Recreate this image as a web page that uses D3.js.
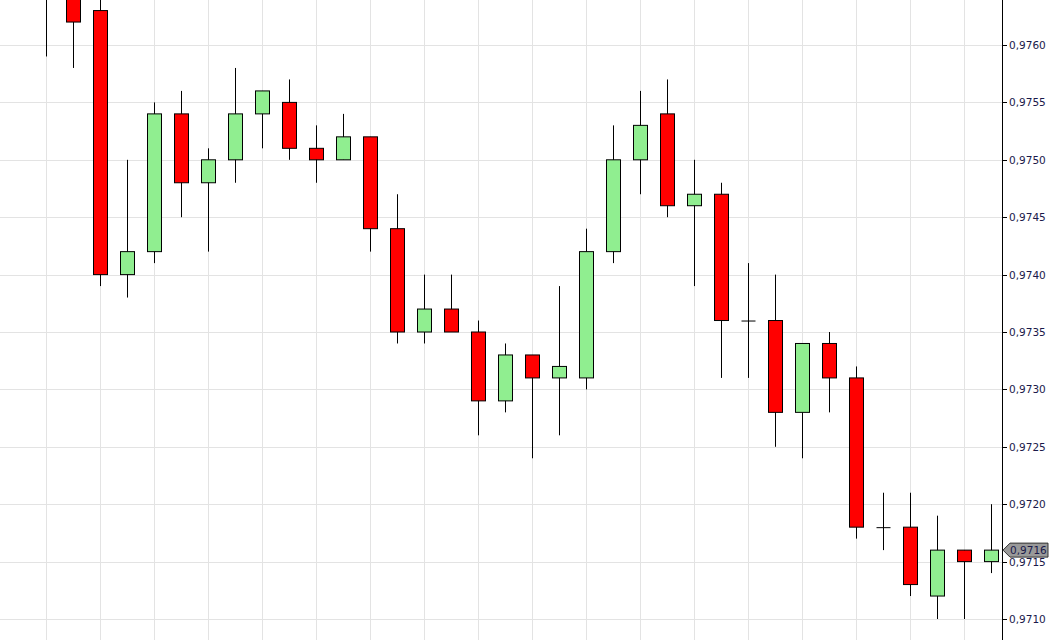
<!DOCTYPE html>
<html><head><meta charset="utf-8">
<script src="https://cdn.jsdelivr.net/npm/d3@7"></script>
<style>body{margin:0;background:#fff}svg{display:block}</style>
</head><body><svg id="chart" width="1050" height="640"></svg>
<script>
var opens  = [.9764,.9765,.9763,.9740,.9742,.9754,.9748,.9750,.9754,.9755,.9751,.9750,.9752,.9744,.9735,.9737,.9735,.9729,.9733,.9731,.9731,.9742,.9750,.9754,.9746,.9747,.9736,.9736,.9728,.9734,.9731,.9718,.9718,.9712,.9716,.9715];
var highs  = [.9768,.9767,.9764,.9750,.9755,.9756,.9751,.9758,.9756,.9757,.9753,.9754,.9752,.9747,.9740,.9740,.9736,.9734,.9733,.9739,.9744,.9753,.9756,.9757,.9750,.9748,.9741,.9740,.9734,.9735,.9732,.9721,.9721,.9719,.9716,.9720];
var lows   = [.9759,.9758,.9739,.9738,.9741,.9745,.9742,.9748,.9751,.9750,.9748,.9750,.9742,.9734,.9734,.9735,.9726,.9728,.9724,.9726,.9730,.9741,.9747,.9745,.9739,.9731,.9731,.9725,.9724,.9728,.9717,.9716,.9712,.9710,.9710,.9714];
var closes = [.9766,.9762,.9740,.9742,.9754,.9748,.9750,.9754,.9756,.9751,.9750,.9752,.9744,.9735,.9737,.9735,.9729,.9733,.9731,.9732,.9742,.9750,.9753,.9746,.9747,.9736,.9736,.9728,.9734,.9731,.9718,.9718,.9713,.9716,.9715,.9716];
var priceTicks = [.9710,.9715,.9720,.9725,.9730,.9735,.9740,.9745,.9750,.9755,.9760];
var lastPrice = .9716;

var svg = d3.select('#chart');
var plotRight = 1002, H = 640;
var x = d3.scaleLinear().domain([0, 35]).range([46, 991]);
var y = d3.scaleLinear().domain([.9710, .9760]).range([619, 45]);
var fmt = function(v){ return d3.format('.4f')(v).replace('.', ','); };

// grid
svg.append('g').selectAll('line').data(d3.range(0, 36, 2)).enter().append('line')
    .attr('x1', d => x(d) + .5).attr('x2', d => x(d) + .5)
    .attr('y1', 0).attr('y2', H).attr('stroke', '#e3e3e3');
svg.append('g').selectAll('line').data(priceTicks).enter().append('line')
    .attr('x1', 0).attr('x2', plotRight)
    .attr('y1', d => Math.round(y(d)) + .5).attr('y2', d => Math.round(y(d)) + .5)
    .attr('stroke', '#e3e3e3');

// candles
var idx = d3.range(opens.length);
var c = svg.append('g').selectAll('g').data(idx).enter().append('g');
c.append('line')
    .attr('x1', i => Math.round(x(i)) + .5).attr('x2', i => Math.round(x(i)) + .5)
    .attr('y1', i => y(highs[i])).attr('y2', i => y(lows[i]))
    .attr('stroke', '#000');
c.append('rect')
    .attr('x', i => Math.round(x(i)) - 7 + .5).attr('width', 14)
    .attr('y', i => y(Math.max(opens[i], closes[i])))
    .attr('height', i => Math.max(1, Math.abs(y(opens[i]) - y(closes[i]))))
    .attr('fill', i => closes[i] > opens[i] ? '#90ee90' : (closes[i] < opens[i] ? '#ff0000' : '#000'))
    .attr('stroke', '#000').attr('stroke-width', i => closes[i] == opens[i] ? 0 : 1);

// axis
svg.append('rect').attr('x', plotRight + 1).attr('y', 0).attr('width', 50).attr('height', H).attr('fill', '#fff');
svg.append('line').attr('x1', plotRight + .5).attr('x2', plotRight + .5).attr('y1', 0).attr('y2', H).attr('stroke', '#000');
var ax = svg.append('g').selectAll('g').data(priceTicks).enter().append('g')
    .attr('transform', d => 'translate(' + plotRight + ',' + (Math.round(y(d)) + .5) + ')');
ax.append('line').attr('x1', 0).attr('x2', 5).attr('stroke', '#000');
ax.append('text').attr('x', 7).attr('dy', '0.35em')
    .attr('font-family', 'DejaVu Sans, sans-serif').attr('font-size', 10.5)
    .attr('fill', '#1a1a4a').text(d => fmt(d));

// last price tag
var ly = y(lastPrice);
svg.append('path')
    .attr('d', 'M' + (plotRight + 1) + ',' + ly + 'L' + (plotRight + 8) + ',' + (ly - 7) + 'H1048V' + (ly + 7) + 'H' + (plotRight + 8) + 'Z')
    .attr('fill', '#999').attr('stroke', '#333');
svg.append('text').attr('x', plotRight + 8).attr('y', ly).attr('dy', '0.35em')
    .attr('font-family', 'DejaVu Sans, sans-serif').attr('font-size', 10.5)
    .attr('fill', '#1a1a4a').text(fmt(lastPrice));
</script></body></html>
